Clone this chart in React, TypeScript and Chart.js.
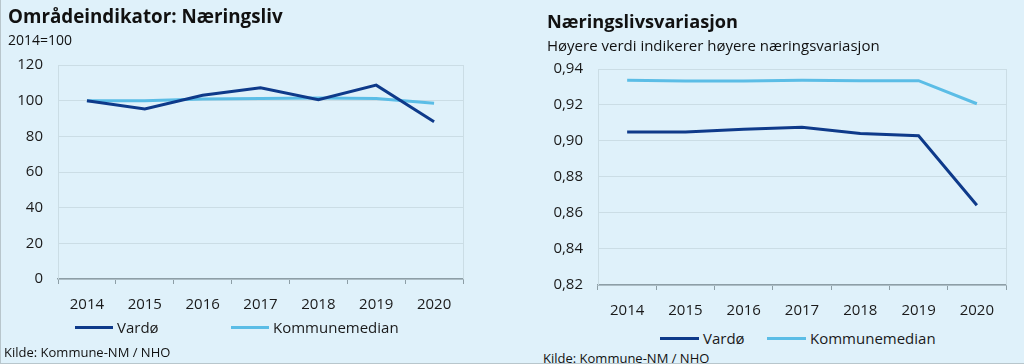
import React, { useEffect, useRef } from "react";
import { Chart, registerables } from "chart.js";

Chart.register(...registerables);

const years = ["2014", "2015", "2016", "2017", "2018", "2019", "2020"];

const indexVardo = [100, 95.4, 103, 107.2, 100.5, 108.7, 88.2];
const indexMedian = [100, 100, 101, 101.2, 101.5, 101.2, 98.5];
const indexTicks = [0, 20, 40, 60, 80, 100, 120];

const variVardo = [0.905, 0.905, 0.9065, 0.9077, 0.9042, 0.9029, 0.8643];
const variMedian = [0.9338, 0.9333, 0.9333, 0.9337, 0.9335, 0.9335, 0.9207];
const variTicks = [0.82, 0.84, 0.86, 0.88, 0.9, 0.92, 0.94];

const NAVY = "#0e3a8a";
const LIGHT = "#5bbde6";
const BG = "#dff1fa";
const GRID = "#cbdde5";
const AXIS = "#8d9ea6";
const FONT = "'Open Sans', 'Noto Sans', sans-serif";

const sideBorders = {
  id: "sideBorders",
  afterDraw(chart: any) {
    const { ctx, chartArea } = chart;
    ctx.save();
    ctx.strokeStyle = GRID;
    ctx.lineWidth = 1;
    ctx.beginPath();
    ctx.moveTo(Math.round(chartArea.left) + 0.5, chartArea.top);
    ctx.lineTo(Math.round(chartArea.left) + 0.5, chartArea.bottom);
    ctx.moveTo(Math.round(chartArea.right) + 0.5, chartArea.top);
    ctx.lineTo(Math.round(chartArea.right) + 0.5, chartArea.bottom);
    ctx.stroke();
    ctx.restore();
  },
};

type Cfg = {
  vardo: number[];
  median: number[];
  ticks: number[];
  fmt: (v: number) => string;
  yWidth: number;
  padTop: number;
  padRight: number;
  xHeight: number;
};

function LineChart({ cfg, width, height }: { cfg: Cfg; width: number; height: number }) {
  const ref = useRef<HTMLCanvasElement>(null);
  useEffect(() => {
    if (!ref.current) return;
    const min = cfg.ticks[0];
    const max = cfg.ticks[cfg.ticks.length - 1];
    const step = cfg.ticks[1] - cfg.ticks[0];
    const chart = new Chart(ref.current, {
      type: "line",
      data: {
        labels: years,
        datasets: [
          {
            label: "Vardø",
            data: cfg.vardo,
            borderColor: NAVY,
            backgroundColor: NAVY,
            borderWidth: 3,
            pointRadius: 0,
            tension: 0,
          },
          {
            label: "Kommunemedian",
            data: cfg.median,
            borderColor: LIGHT,
            backgroundColor: LIGHT,
            borderWidth: 3,
            pointRadius: 0,
            tension: 0,
          },
        ],
      },
      options: {
        animation: false,
        responsive: false,
        maintainAspectRatio: false,
        layout: { padding: { top: cfg.padTop, right: cfg.padRight, left: 0, bottom: 0 } },
        plugins: { legend: { display: false }, tooltip: { enabled: false } },
        scales: {
          x: {
            offset: true,
            grid: {
              offset: true,
              drawOnChartArea: false,
              drawTicks: true,
              tickLength: 5,
              tickColor: AXIS,
              lineWidth: 1,
            },
            border: { display: true, color: AXIS, width: 1.5 },
            ticks: {
              color: "#1a1a1a",
              font: { family: FONT, size: 15 },
              padding: 12,
              maxRotation: 0,
            },
            afterFit: (s: any) => {
              s.height = cfg.xHeight;
            },
          },
          y: {
            min,
            max,
            grid: { color: GRID, drawTicks: false, lineWidth: 1 },
            border: { display: false },
            ticks: {
              stepSize: step,
              color: "#1a1a1a",
              font: { family: FONT, size: 15 },
              padding: 15,
              callback: (v: any) => cfg.fmt(Number(v)),
            },
            afterFit: (s: any) => {
              s.width = cfg.yWidth;
            },
          },
        },
      },
      plugins: [sideBorders],
    });
    return () => chart.destroy();
  }, []);
  return <canvas ref={ref} width={width} height={height} style={{ width, height, display: "block" }} />;
}

function Legend({ left, top, lineW, gap2 }: { left: number; top: number; lineW: number; gap2: number }) {
  const item = (color: string, text: string, x: number) => (
    <div style={{ position: "absolute", left: x, top, display: "flex", alignItems: "center", height: 20 }}>
      <div style={{ width: lineW, height: 3, background: color, marginRight: 4 }} />
      <span style={{ fontSize: 15, color: "#1a1a1a", lineHeight: "20px" }}>{text}</span>
    </div>
  );
  return (
    <>
      {item(NAVY, "Vardø", left)}
      {item(LIGHT, "Kommunemedian", left + gap2)}
    </>
  );
}

export default function App() {
  useEffect(() => {
    document.body.style.margin = "0";
  }, []);
  const leftCfg: Cfg = {
    vardo: indexVardo,
    median: indexMedian,
    ticks: indexTicks,
    fmt: (v) => String(Math.round(v)),
    yWidth: 58,
    padTop: 65,
    padRight: 17,
    xHeight: 40,
  };
  const rightCfg: Cfg = {
    vardo: variVardo,
    median: variMedian,
    ticks: variTicks,
    fmt: (v) => v.toFixed(2).replace(".", ","),
    yWidth: 68,
    padTop: 69,
    padRight: 18,
    xHeight: 40,
  };
  return (
    <div
      style={{
        position: "absolute",
        left: 0,
        top: 0,
        width: 1024,
        height: 364,
        background: BG,
        fontFamily: FONT,
        color: "#111",
        overflow: "hidden",
        boxSizing: "border-box",
        borderLeft: "1px solid #b8c6cc",
        borderBottom: "1px solid #b8c6cc",
      }}
    >
      <div style={{ position: "absolute", left: -1, top: 0 }}>
        <LineChart cfg={leftCfg} width={480} height={319} />
      </div>
      <div style={{ position: "absolute", left: 529, top: 0 }}>
        <LineChart cfg={rightCfg} width={494} height={325} />
      </div>
      <div style={{ position: "absolute", left: 7, top: 2, fontSize: 18.8, fontWeight: 700, lineHeight: "28px", whiteSpace: "nowrap" }}>
        Områdeindikator: Næringsliv
      </div>
      <div style={{ position: "absolute", left: 7, top: 30, fontSize: 14, lineHeight: "20px", whiteSpace: "nowrap" }}>
        2014=100
      </div>
      <div style={{ position: "absolute", left: 546, top: 7, fontSize: 18.2, fontWeight: 700, lineHeight: "28px", whiteSpace: "nowrap" }}>
        Næringslivsvariasjon
      </div>
      <div style={{ position: "absolute", left: 546, top: 35, fontSize: 15, lineHeight: "20px", whiteSpace: "nowrap" }}>
        Høyere verdi indikerer høyere næringsvariasjon
      </div>
      <Legend left={74} top={317} lineW={38} gap2={156} />
      <Legend left={659} top={328} lineW={39} gap2={107} />
      <div style={{ position: "absolute", left: 3, top: 343, fontSize: 13, lineHeight: "18px", whiteSpace: "nowrap" }}>
        Kilde: Kommune-NM / NHO
      </div>
      <div style={{ position: "absolute", left: 542, top: 349, fontSize: 13, lineHeight: "18px", whiteSpace: "nowrap" }}>
        Kilde: Kommune-NM / NHO
      </div>
    </div>
  );
}
